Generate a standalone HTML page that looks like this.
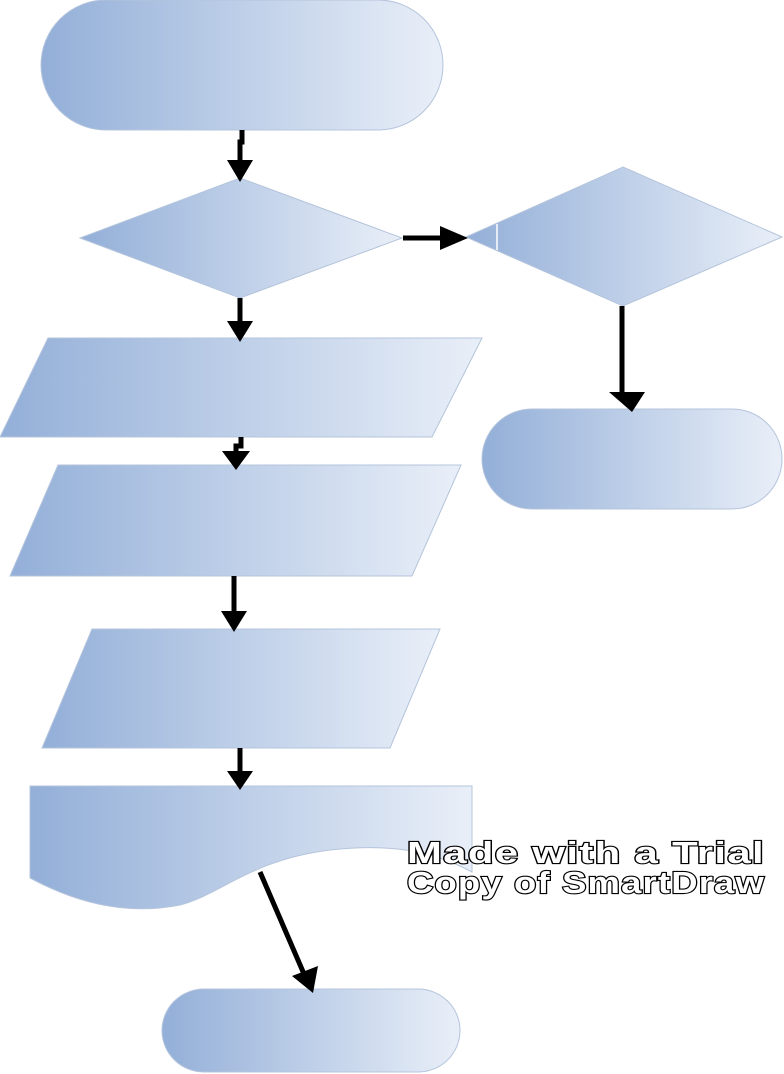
<!DOCTYPE html>
<html><head><meta charset="utf-8"><style>
html,body{margin:0;padding:0;background:#fff;}
svg{display:block;}
</style></head><body>
<svg width="784" height="1074" viewBox="0 0 784 1074" xmlns="http://www.w3.org/2000/svg">
<defs>
<linearGradient id="g" x1="0" y1="0" x2="1" y2="0">
<stop offset="0" stop-color="#93afd8"/>
<stop offset="1" stop-color="#e9eff8"/>
</linearGradient>
</defs>
<g stroke="#b4c4dc" stroke-width="1" fill="url(#g)">
<rect x="41" y="0" width="402" height="130" rx="65"/>
<polygon points="80,238 240,178 402,238 240,298"/>
<polygon points="466,237 623,167 782,237 623,306"/>
<polygon points="48,338 482,338 432,437 0,437"/>
<polygon points="58,465 461,465 412,576 10,576"/>
<polygon points="92,629 440,629 390,748 42,748"/>
<path d="M30,786 H472 V872 C440,855 400,842 330,850 C250,860 220,895 180,905 C130,915 80,905 30,878 Z"/>
<rect x="482" y="409" width="300" height="100" rx="50"/>
<rect x="162" y="989" width="298" height="83" rx="42"/>
</g>
<line x1="497" y1="224" x2="497" y2="250" stroke="#fff" stroke-width="1.5"/>
<g stroke="#000" stroke-width="5" fill="none">
<polyline points="242,130 242,142 240,142 240,160"/>
<line x1="240" y1="298" x2="240" y2="322"/>
<polyline points="241,437 241,446 236,446 236,452"/>
<line x1="234" y1="576" x2="234" y2="612"/>
<line x1="240" y1="748" x2="240" y2="772"/>
<line x1="260" y1="872" x2="304" y2="974"/>
<line x1="403" y1="238" x2="442" y2="238"/>
<line x1="622" y1="306" x2="622" y2="394"/>
</g>
<g fill="#000">
<polygon points="227,160 253,160 240,182"/>
<polygon points="227,321 253,321 240,342"/>
<polygon points="222,451 250,451 236,470"/>
<polygon points="221,611 247,611 234,632"/>
<polygon points="227,771 253,771 240,790"/>
<polygon points="292,976 318,966 313,993"/>
<polygon points="440,226 440,250 468,238"/>
<polygon points="609,392 645,392 632,412"/>
</g>
<g font-family="'Liberation Sans',sans-serif" font-weight="bold" font-size="31" fill="#fff" stroke="#000" stroke-width="2.2" paint-order="stroke" letter-spacing="1">
<text x="407" y="863" textLength="358" lengthAdjust="spacingAndGlyphs">Made with a Trial</text>
<text x="407" y="893" textLength="358" lengthAdjust="spacingAndGlyphs">Copy of SmartDraw</text>
</g>
</svg>
</body></html>
